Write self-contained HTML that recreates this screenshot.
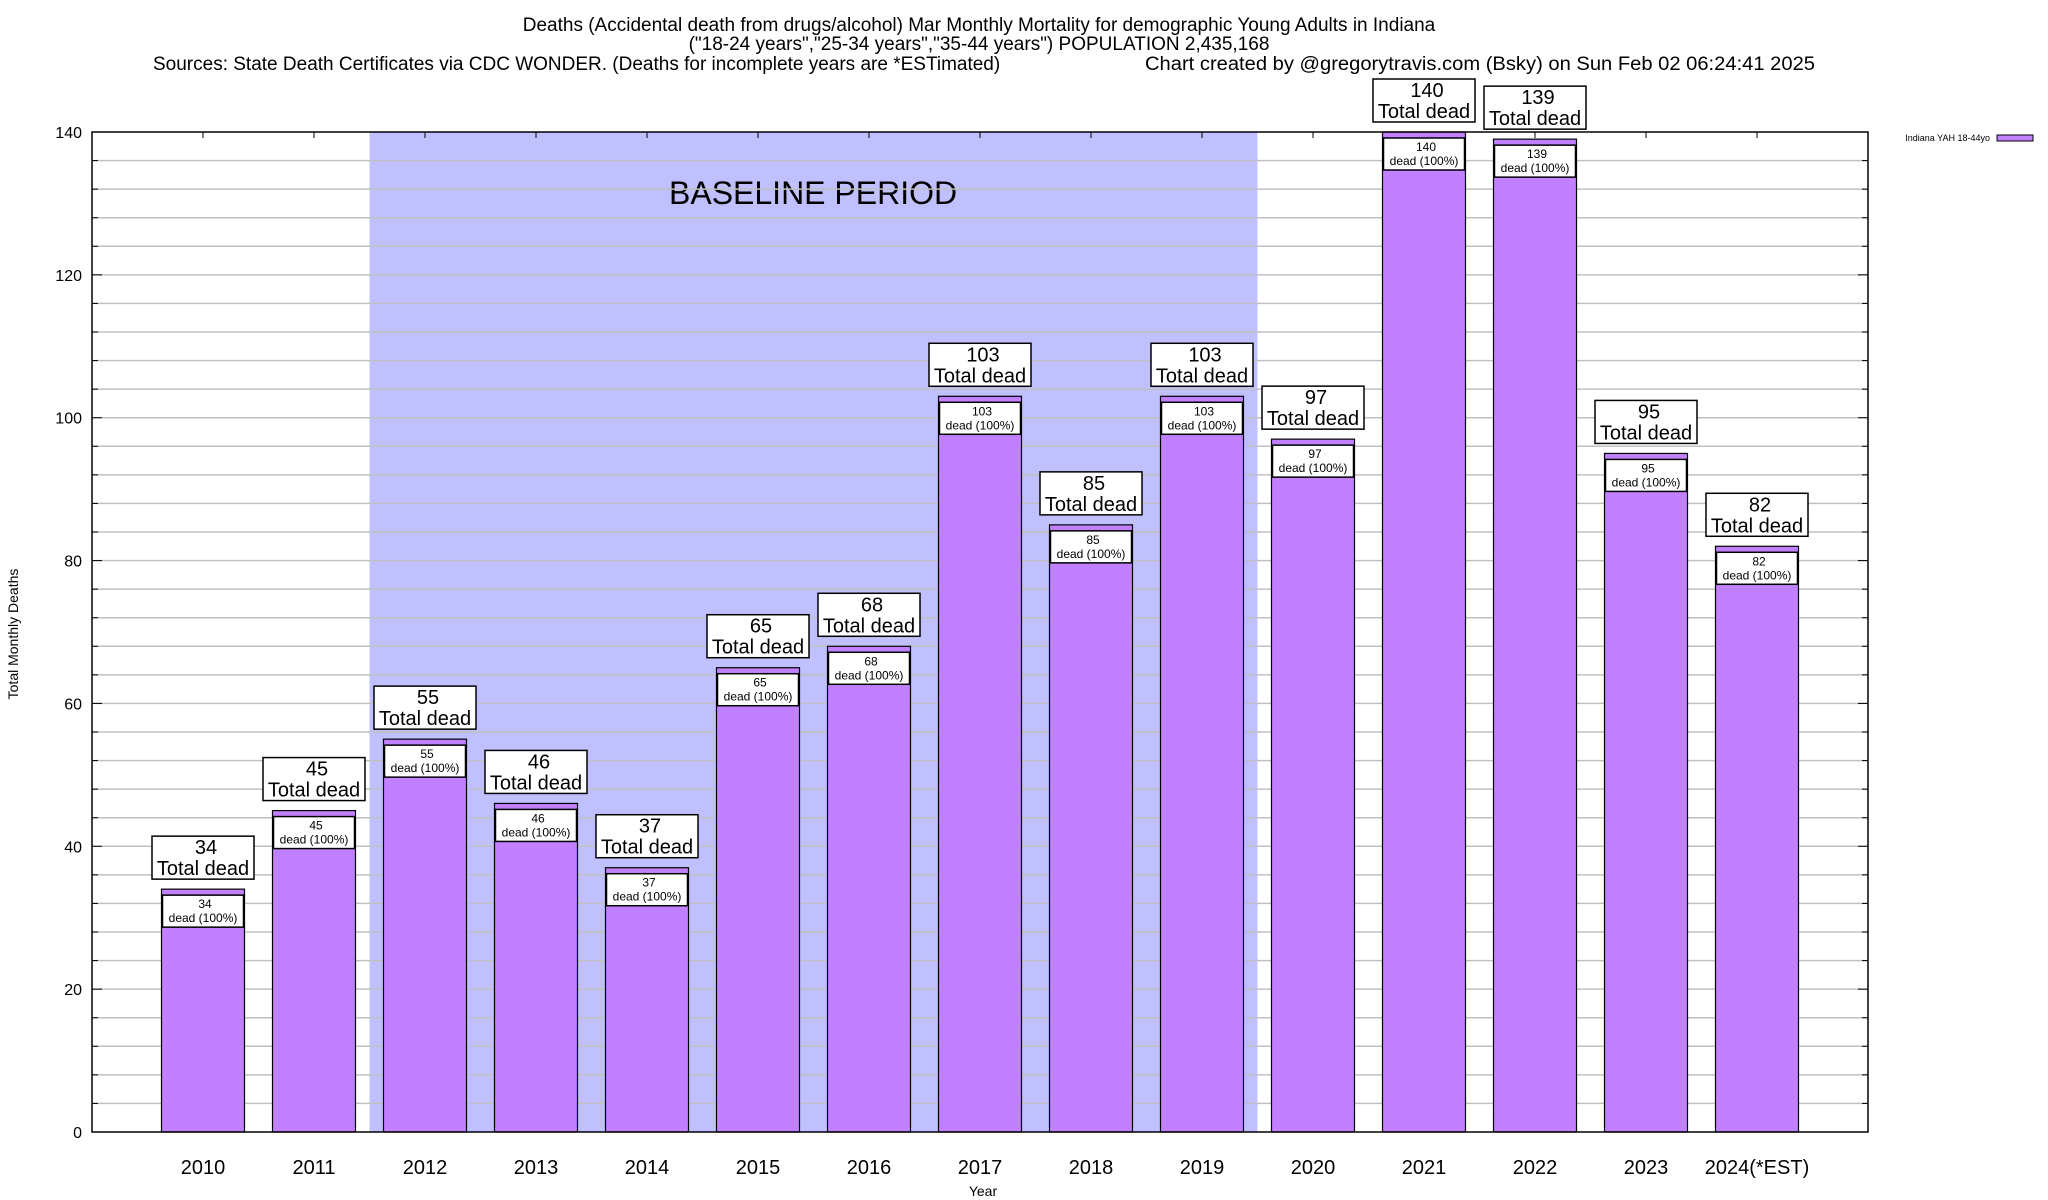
<!DOCTYPE html>
<html><head><meta charset="utf-8"><style>
html,body{margin:0;padding:0;background:#fff;}
svg{display:block;font-family:"Liberation Sans",Arial,sans-serif;}
</style></head><body>
<svg id="chart" width="2048" height="1200" viewBox="0 0 2048 1200">
<g font-size="19" text-anchor="middle" fill="#000">
<text x="979" y="31">Deaths (Accidental death from drugs/alcohol) Mar Monthly Mortality for demographic Young Adults in Indiana</text>
<text x="979" y="50">("18-24 years","25-34 years","35-44 years") POPULATION 2,435,168</text>
<text x="153" y="70" text-anchor="start">Sources: State Death Certificates via CDC WONDER. (Deaths for incomplete years are *ESTimated)</text>
<text x="1145" y="70" text-anchor="start" textLength="670" lengthAdjust="spacingAndGlyphs">Chart created by @gregorytravis.com (Bsky) on Sun Feb 02 06:24:41 2025</text>
</g>
<g id="plot"></g>
<text font-size="14" text-anchor="middle" transform="translate(18,634) rotate(-90)">Total Monthly Deaths</text>
<text font-size="14" text-anchor="middle" x="983" y="1196">Year</text>
<g>
<text x="1990" y="141" font-size="9" text-anchor="end">Indiana YAH 18-44yo</text>
<rect x="1997" y="135" width="36" height="6" fill="#c080ff" stroke="#000" stroke-width="1"/>
</g>
</svg>
<script>
const categories=["2010","2011","2012","2013","2014","2015","2016","2017","2018","2019","2020","2021","2022","2023","2024(*EST)"];
const deaths=[34,45,55,46,37,65,68,103,85,103,97,140,139,95,82];
const yTicks=[0,20,40,60,80,100,120,140];
const baselineRange=[1.5,9.5];

const L=92,R=1868,T=132,B=1132;
const ns="http://www.w3.org/2000/svg";
const plot=document.getElementById('plot');
function xs(i){return L+(i+1)*(R-L)/16;}
function ys(v){return B-v*(B-T)/140;}
function mk(tag,attrs,parent){const e=document.createElementNS(ns,tag);for(const k in attrs)e.setAttribute(k,attrs[k]);(parent||plot).appendChild(e);return e;}

const shade=mk('rect',{x:xs(baselineRange[0]),y:T,width:xs(baselineRange[1])-xs(baselineRange[0]),height:B-T,fill:'#c0c0ff'});


const bl=mk('text',{x:669,y:204,'font-size':32});
bl.textContent='BASELINE PERIOD';



for(let v=4;v<140;v+=4){
  const g=mk('line',{x1:L,x2:R,y1:ys(v),y2:ys(v),stroke:'#c0c0c0','stroke-width':1.5});
  
  
  const major=(v%20===0);
  mk('line',{x1:L,x2:L+(major?10:6),y1:ys(v),y2:ys(v),stroke:'#000'});
  mk('line',{x1:R,x2:R-(major?10:6),y1:ys(v),y2:ys(v),stroke:'#000'});
}
yTicks.forEach(v=>{
  const t=mk('text',{x:82,y:ys(v)+6,'font-size':16,'text-anchor':'end'});
  t.textContent=v;
  
  
});
categories.forEach((c,i)=>{
  mk('line',{x1:xs(i),x2:xs(i),y1:T,y2:T+6,stroke:'#000'});
  mk('line',{x1:xs(i),x2:xs(i),y1:B,y2:B-6,stroke:'#000'});
  const t=mk('text',{x:xs(i),y:1174,'font-size':20,'text-anchor':'middle'});
  t.textContent=c;
  
  
});
const bw=83;
deaths.forEach((v,i)=>{
  const cx=xs(i),top=ys(v);
  const b=mk('rect',{x:cx-bw/2,y:top,width:bw,height:B-top,fill:'#c080ff',stroke:'#000','stroke-width':1.2});
  
  
  const ib=mk('rect',{x:cx-bw/2+1,y:top+6,width:bw-2,height:32,fill:'#fff',stroke:'#000','stroke-width':1.5});
  
  
  const t1=mk('text',{x:cx+2,y:top+19,'font-size':12,'text-anchor':'middle'});t1.textContent=v;
  
  
  const t2=mk('text',{x:cx,y:top+33,'font-size':12,'text-anchor':'middle'});t2.textContent='dead (100%)';
  
  
  const ob=mk('rect',{x:cx-51,y:top-53,width:102,height:43,fill:'#fff',stroke:'#000','stroke-width':1.5});
  
  
  const o1=mk('text',{x:cx+3,y:top-35,'font-size':20,'text-anchor':'middle'});o1.textContent=v;
  
  
  const o2=mk('text',{x:cx,y:top-14,'font-size':20,'text-anchor':'middle'});o2.textContent='Total dead';
  
  
});
const frame=mk('rect',{x:L,y:T,width:R-L,height:B-T,fill:'none',stroke:'#000','stroke-width':1.5});


</script>
</body></html>
